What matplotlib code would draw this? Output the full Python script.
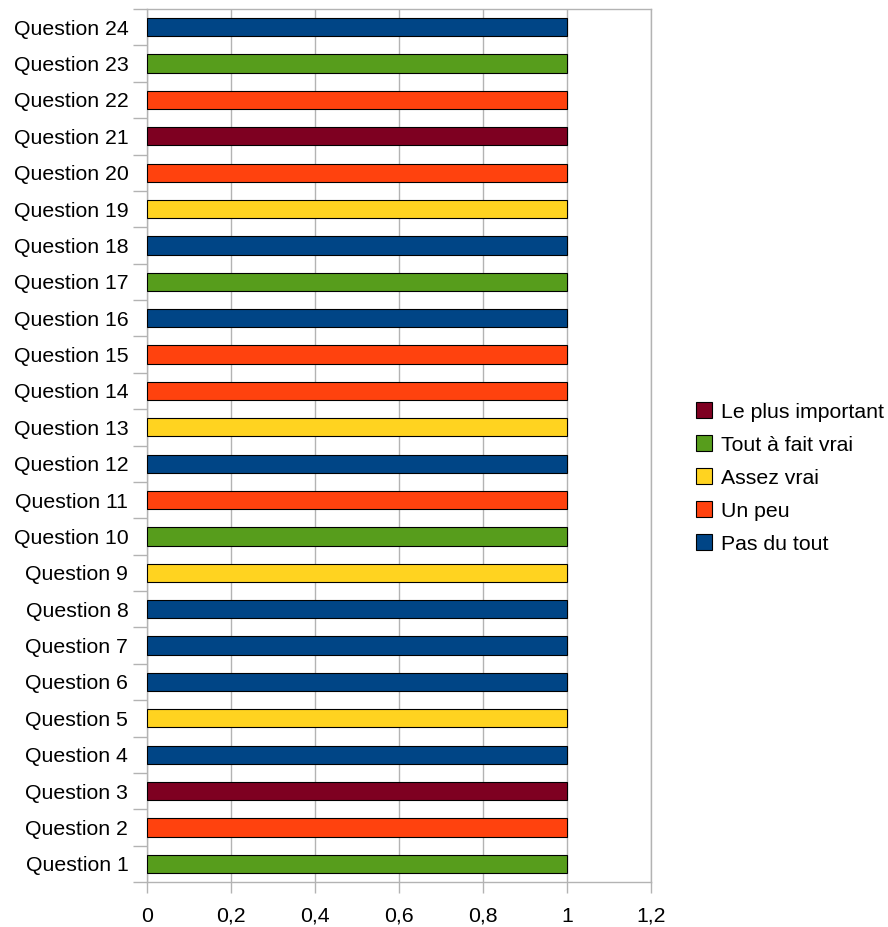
import numpy as np
import matplotlib.pyplot as plt
from matplotlib.patches import Patch
from matplotlib.ticker import FixedLocator

plt.rcParams["font.family"] = ["Liberation Sans", "DejaVu Sans"]

# ======= Data =====================================================

questions = [f"Question {i}" for i in range(1, 25)]

series_names = ["Pas du tout", "Un peu", "Assez vrai", "Tout à fait vrai", "Le plus important"]
series_colors = ["#004586", "#ff420e", "#ffd320", "#579d1c", "#7e0021"]

# answer given for each question (Question 1 .. Question 24)
answers = [
    "Tout à fait vrai",   # 1
    "Un peu",             # 2
    "Le plus important",  # 3
    "Pas du tout",        # 4
    "Assez vrai",         # 5
    "Pas du tout",        # 6
    "Pas du tout",        # 7
    "Pas du tout",        # 8
    "Assez vrai",         # 9
    "Tout à fait vrai",   # 10
    "Un peu",             # 11
    "Pas du tout",        # 12
    "Assez vrai",         # 13
    "Un peu",             # 14
    "Un peu",             # 15
    "Pas du tout",        # 16
    "Tout à fait vrai",   # 17
    "Pas du tout",        # 18
    "Assez vrai",         # 19
    "Un peu",             # 20
    "Le plus important",  # 21
    "Un peu",             # 22
    "Tout à fait vrai",   # 23
    "Pas du tout",        # 24
]

x_ticks = [0, 0.2, 0.4, 0.6, 0.8, 1, 1.2]
x_tick_labels = ["0", "0,2", "0,4", "0,6", "0,8", "1", "1,2"]

FONT_SIZE = 15.3

# ==================================================================


def main() -> None:
    fig = plt.figure(figsize=(8.88, 9.27), dpi=100)
    ax = fig.add_axes([147 / 888, 45 / 927, 504 / 888, 873 / 927])

    y = np.arange(len(questions))
    left = np.zeros(len(questions))
    values = {
        name: np.array([1.0 if a == name else 0.0 for a in answers]) for name in series_names
    }

    for name, color in zip(series_names, series_colors):
        vals = values[name]
        mask = vals > 0
        ax.barh(
            y[mask], vals[mask], left=left[mask], height=0.5,
            color=color, edgecolor="black", linewidth=0.8, zorder=3,
        )
        left += vals

    ax.set_xlim(0, 1.2)
    ax.set_ylim(-0.5, len(questions) - 0.5)

    ax.set_xticks(x_ticks)
    ax.set_xticklabels(x_tick_labels)
    ax.set_yticks(y)
    ax.set_yticklabels(questions)
    ax.yaxis.set_minor_locator(FixedLocator(np.arange(-0.5, len(questions), 1.0)))

    ax.tick_params(axis="y", which="major", length=0, pad=13.5, labelsize=FONT_SIZE)
    ax.tick_params(axis="y", which="minor", length=10, color="#b3b3b3", width=1)
    ax.tick_params(axis="x", length=8, color="#b3b3b3", width=1, pad=10, labelsize=FONT_SIZE)

    ax.grid(axis="x", color="#b3b3b3", linewidth=1, zorder=0)
    for spine in ax.spines.values():
        spine.set_color("#b3b3b3")
        spine.set_linewidth(1)

    handles = [
        Patch(facecolor=c, edgecolor="black", linewidth=0.8, label=n)
        for n, c in zip(series_names, series_colors)
    ][::-1]
    fig.legend(
        handles=handles,
        loc="center left",
        bbox_to_anchor=(696 / 888, 1 - 478 / 927),
        frameon=False,
        fontsize=FONT_SIZE,
        handlelength=0.75,
        handleheight=0.75,
        handletextpad=0.42,
        labelspacing=0.65,
        borderaxespad=0,
        borderpad=0,
    )

    fig.savefig("out.png", dpi=100)
    plt.close(fig)


if __name__ == "__main__":
    main()
